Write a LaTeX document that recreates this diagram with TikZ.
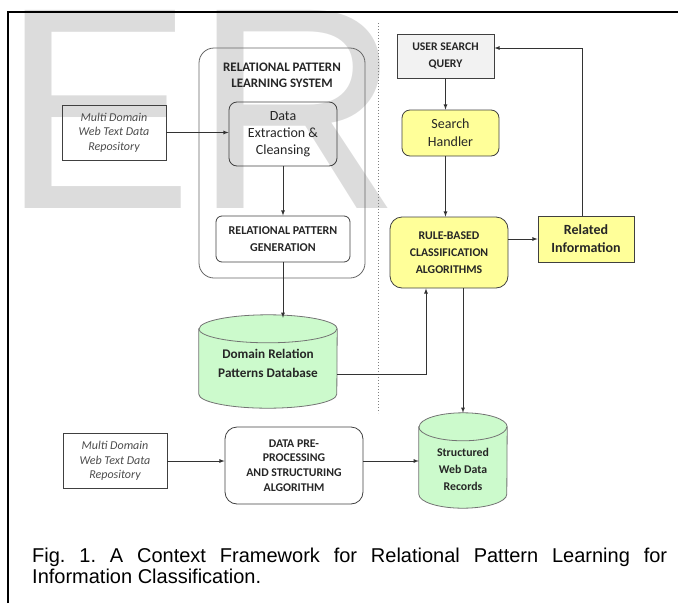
\documentclass[tikz,border=0pt]{standalone}
\usepackage{fontspec}
\setmainfont{Carlito}
\newfontfamily\captionfont{Liberation Sans}
\usetikzlibrary{positioning}
\usetikzlibrary{calc}
\usetikzlibrary{arrows}
\definecolor{butter}{RGB}{255,255,153}
\definecolor{mint}{RGB}{204,250,204}
\definecolor{fog}{RGB}{242,242,242}
\definecolor{watermark}{RGB}{220,220,220}
\definecolor{edge}{RGB}{64,64,64}
\newcommand{\setfs}[2]{\fontsize{#1}{#2}\selectfont}

\begin{document}
\begin{tikzpicture}[
    x=1pt, y=-1pt,
    >=latex,
    % node styles
    box/.style = {
      draw=edge,
      line width=0.8pt,
      align=center,
      inner sep=0pt,
      text=black!85
    },
    roundbox/.style = {box, rounded corners=8pt},
    repo/.style = {
      box,
      minimum width=104pt,
      minimum height=55pt,
      font=\itshape\setfs{12}{14.5},
      text=black!70
    },
    dbframe/.style = {inner sep=0pt},
    dbtext/.style = {align=center, inner sep=0pt, text=black!85},
    dbline/.style = {draw=black!55, line width=0.8pt, fill=mint},
    % arrow styles
    arr/.style = {->, line width=0.8pt, draw=black!80}
  ]
  \useasboundingbox (0,0) rectangle (678,603);

  % --- Background: watermark, frame, divider
  \node[anchor=base west, inner sep=0pt, text=watermark,
        font=\captionfont\setfs{288}{288}] (mark) at (1,208.5) {ER};
  \draw[line width=1.3pt] (8,603) -- (8,12) -- (678,12);
  \draw[dotted, line width=1pt, black!50] (378,23) -- (378,413);

  % --- Learning system
  \node[box, draw=black!60, rounded corners=15pt, minimum width=166pt,
        minimum height=230pt] (lsys) at (282,163) {};
  \node[align=center, text=black!85, font=\bfseries\setfs{13}{16}] (lsyshead)
    at (282,75) {RELATIONAL PATTERN\\LEARNING SYSTEM};
  \node[repo] (repoA) at (114,132.5) {Multi Domain\\Web Text Data\\Repository};
  \node[roundbox, minimum width=108pt, minimum height=64pt,
        font=\setfs{14}{17}] (extract) at (283,134) {Data\\Extraction \&\\Cleansing};
  \node[roundbox, rounded corners=6pt, minimum width=134pt, minimum height=46pt,
        font=\bfseries\setfs{12}{17}] (patgen) at (283,239) {RELATIONAL PATTERN\\GENERATION};

  % database cylinders (frame nodes, outline drawn below)
  \node[dbframe, minimum width=138pt, minimum height=93pt] (patdb) at (268,361.5) {};
  \node[dbframe, minimum width=88pt, minimum height=95pt] (records) at (463,460.5) {};
  \foreach \db/\rx in {patdb/69, records/44} {
    \draw[dbline] ([yshift=-14pt]\db.north west) -- ([yshift=14pt]\db.south west)
      arc (180:360:\rx pt and 14pt) -- ([yshift=-14pt]\db.north east)
      arc (0:180:\rx pt and 14pt) -- cycle;
    \draw[dbline, fill=none] ([yshift=-14pt]\db.north west)
      arc (180:360:\rx pt and 14pt);
  }
  \node[dbtext, font=\bfseries\setfs{13.2}{18.5}] (patdbtext)
    at ([yshift=-2pt]patdb.center) {Domain Relation\\Patterns Database};
  \node[dbtext, font=\bfseries\setfs{11.8}{17}] (recordstext)
    at ([yshift=-9pt]records.center) {Structured\\Web Data\\Records};

  % --- Search side
  \node[box, fill=fog, minimum width=97pt, minimum height=44pt,
        font=\bfseries\setfs{11.7}{17}] (query) at (445.5,56) {USER SEARCH\\QUERY};
  \node[roundbox, fill=butter, minimum width=97pt, minimum height=46pt,
        font=\setfs{14}{18}] (handler) at (450.5,133) {Search\\Handler};
  \node[roundbox, rounded corners=12pt, fill=butter, minimum width=118pt,
        minimum height=71pt, font=\bfseries\setfs{11.8}{17}] (rules)
    at (449,252.5) {RULE-BASED\\CLASSIFICATION\\ALGORITHMS};
  \node[box, fill=butter, minimum width=96pt, minimum height=46pt,
        font=\bfseries\setfs{14}{18}] (related) at (586,239) {Related\\Information};

  % --- Preprocessing row
  \node[repo] (repoB) at (115,461) {Multi Domain\\Web Text Data\\Repository};
  \node[roundbox, rounded corners=12pt, minimum width=138pt, minimum height=77pt,
        font=\bfseries\setfs{11.8}{14.7}] (prep)
    at (294,465.5) {DATA PRE-\\PROCESSING\\AND STRUCTURING\\ALGORITHM};

  % --- Arrows
  \draw[arr] (repoA.east) -- (repoA.east -| extract.west);
  \draw[arr] (extract) -- (patgen);
  \draw[arr] (patgen.south) -- ([yshift=-3pt]patgen.south |- patdb.north);
  \draw[arr] ([yshift=-12.5pt]patdb.east) -| ([xshift=-23pt]rules.south);
  \draw[arr] (query.south) -- (query.south |- handler.north);
  \draw[arr] (handler.south -| query.south) -- (query.south |- rules.north);
  \draw[arr] (related.west -| rules.east) -- (related.west);
  \draw[arr] ([xshift=-4pt]related.north) |- ([yshift=8pt]query.east);
  \draw[arr] (records.north |- rules.south) -- (records.north);
  \draw[arr] (repoB.east) -- (repoB.east -| prep.west);
  \draw[arr] (repoB.east -| prep.east) -- (repoB.east -| records.west);

  % --- Caption
  \node[anchor=north west, inner sep=0pt, text width=635pt, align=justify,
        font=\captionfont\setfs{20}{21}\frenchspacing] (caption) at (32,548)
    {Fig. 1. A Context Framework for Relational Pattern Learning for\linebreak Information Classification.};

\end{tikzpicture}
\end{document}
